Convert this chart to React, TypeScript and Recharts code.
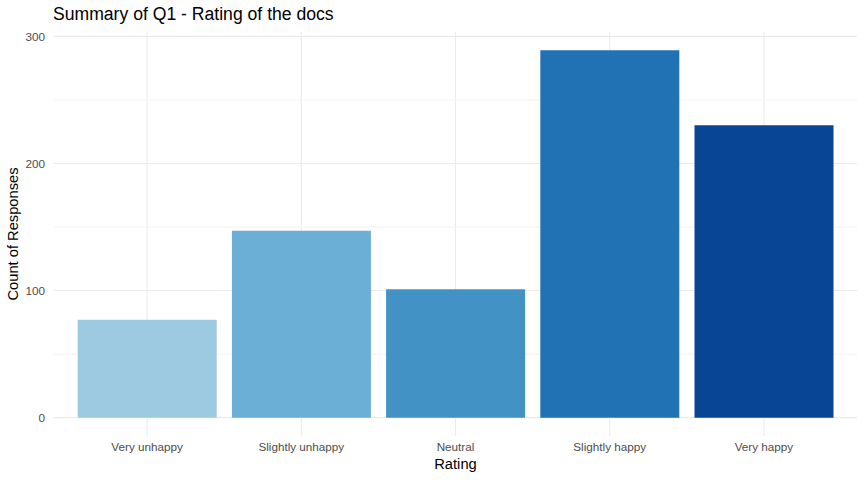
import React from "react";
import { BarChart, Bar, XAxis, YAxis, CartesianGrid, Cell } from "recharts";

const categories = ["Very unhappy", "Slightly unhappy", "Neutral", "Slightly happy", "Very happy"];
const counts = [77, 147, 101, 289, 230];
const colors = ["#9ECAE1", "#6BAED6", "#4292C6", "#2171B5", "#084594"];
const majorTicks = [0, 100, 200, 300];
const minorTicks = [50, 150, 250];

const data = categories.map((c, i) => ({ rating: c, count: counts[i] }));
const FONT = '"Liberation Sans", Arial, Helvetica, sans-serif';
const yMax = Math.max(...counts);
const yDomain = [-yMax * 0.05, yMax * 1.05];

const scaleOf = (axis: any, v: any) => {
  const s = axis?.scale;
  if (!s) return 0;
  if (typeof s === "function") return s(v);
  if (typeof s.map === "function") return s.map(v);
  return 0;
};
const bandOf = (axis: any) => {
  const s = axis?.scale;
  if (s && typeof s.bandwidth === "function") return s.bandwidth();
  return 0;
};

export default function App() {
  return (
    <div style={{ position: "absolute", left: 0, top: 0, width: 864, height: 480, background: "#fff", fontFamily: FONT }}>
      <div
        style={{
          position: "absolute",
          left: 53,
          top: 6,
          fontSize: 17.6,
          lineHeight: 1,
          color: "#000",
          fontFamily: FONT,
          whiteSpace: "nowrap",
        }}
      >
        Summary of Q1 - Rating of the docs
      </div>
      <BarChart
        width={864}
        height={480}
        data={data}
        margin={{ top: 32, right: 7, bottom: 0, left: 0 }}
        barCategoryGap="5%"
        style={{ fontFamily: FONT }}
      >
        <CartesianGrid
          stroke="#EBEBEB"
          strokeWidth={1.07}
          vertical={true}
          horizontal={true}
          verticalCoordinatesGenerator={({ xAxis }: any) =>
            categories.map((c) => scaleOf(xAxis, c) + bandOf(xAxis) / 2)
          }
          horizontalCoordinatesGenerator={({ yAxis }: any) => majorTicks.map((v) => scaleOf(yAxis, v))}
        />
        <CartesianGrid
          stroke="#F2F2F2"
          strokeWidth={1}
          vertical={false}
          horizontal={true}
          horizontalCoordinatesGenerator={({ yAxis }: any) => minorTicks.map((v) => scaleOf(yAxis, v))}
        />
        <XAxis
          dataKey="rating"
          type="category"
          height={44}
          padding={{ left: 16, right: 16 }}
          axisLine={false}
          tickLine={false}
          tickSize={0}
          tickMargin={7}
          interval={0}
          tick={{ fill: "#4D4D4D", fontSize: 11.7, fontFamily: FONT }}
          label={{
            content: (props: any) => {
              const vb = props.viewBox || {};
              return (
                <text
                  x={vb.x + vb.width / 2}
                  y={vb.y + 33}
                  textAnchor="middle"
                  fill="#000"
                  fontSize={14.7}
                  fontFamily={FONT}
                >
                  Rating
                </text>
              );
            },
          }}
        />
        <YAxis
          type="number"
          width={54}
          domain={yDomain}
          ticks={majorTicks}
          allowDataOverflow={true}
          axisLine={false}
          tickLine={false}
          tickSize={0}
          tickMargin={9}
          tick={{ fill: "#4D4D4D", fontSize: 11.7, fontFamily: FONT }}
          label={{
            content: (props: any) => {
              const vb = props.viewBox || {};
              const cx = vb.x + 18;
              const cy = vb.y + vb.height / 2;
              return (
                <text
                  x={cx}
                  y={cy}
                  transform={`rotate(-90 ${cx} ${cy})`}
                  textAnchor="middle"
                  fill="#000"
                  fontSize={14.7}
                  fontFamily={FONT}
                >
                  Count of Responses
                </text>
              );
            },
          }}
        />
        <Bar dataKey="count" isAnimationActive={false}>
          {data.map((d, i) => (
            <Cell key={d.rating} fill={colors[i]} />
          ))}
        </Bar>
      </BarChart>
    </div>
  );
}
